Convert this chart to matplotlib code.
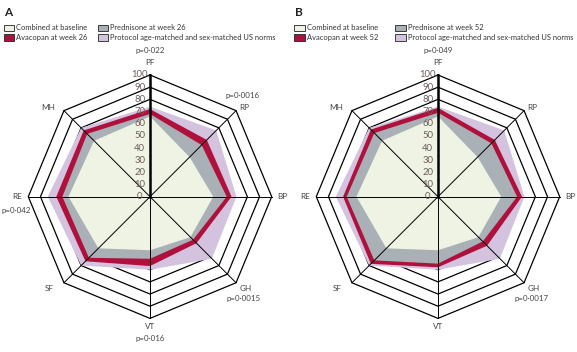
import numpy as np
import matplotlib
matplotlib.use('Agg')
import matplotlib.pyplot as plt
from matplotlib import font_manager
from matplotlib.patches import Rectangle

# domains, clockwise from the top
domains = ['PF', 'RP', 'BP', 'GH', 'VT', 'SF', 'RE', 'MH']
tick_values = [0, 10, 20, 30, 40, 50, 60, 70, 80, 90, 100]
ring_values = [60, 70, 80, 90, 100]

baseline = [66, 46, 52, 47, 44, 60, 67, 65]
us_norms = [74, 77, 71, 72, 60, 80, 84, 80]
pred_wk26 = [68, 60, 63, 50, 51, 71, 72, 73]
ava_wk26 = [72, 66, 67, 54, 57, 75, 77, 77]
pred_wk52 = [69, 62, 65, 52, 55, 74, 75, 74]
ava_wk52 = [73, 66, 69, 57, 58, 78, 78, 78]

pvals_wk26 = {'PF': 'p=0·022', 'RP': 'p=0·0016', 'GH': 'p=0·0015',
              'VT': 'p=0·016', 'RE': 'p=0·042'}
pvals_wk52 = {'PF': 'p=0·049', 'GH': 'p=0·0017'}

c_norm = '#d3c3df'
c_ava = '#b0103c'
c_pred = '#a9b0b6'
c_base = '#eef3e3'

names = {f.name for f in font_manager.fontManager.ttflist}
if 'Liberation Sans Narrow' in names:
    fam = 'Liberation Sans Narrow'
    fs = 6.3
else:
    fam = 'Lato'
    fs = 5.4
plt.rcParams['font.family'] = [fam, 'DejaVu Sans']

W, H = 577, 352
fig = plt.figure(figsize=(W / 100, H / 100), dpi=100)
s = 1.217  # pixels per unit

theta = np.deg2rad(np.arange(len(domains)) * 45.0)


def xy(vals):
    v = np.asarray(vals, dtype=float)
    v = np.append(v, v[0])
    t = np.append(theta, theta[0])
    return v * np.sin(t), v * np.cos(t)


# label anchors (units from the centre)
lab_pos = {'PF': (0, 110.5), 'RP': (77.5, 73), 'BP': (109, 0), 'GH': (79, -75.5),
           'VT': (0, -106.5), 'SF': (-82.5, -75.5), 'RE': (-109, 0), 'MH': (-83.5, 73)}
p_pos = {'PF': (0, 120.5), 'RP': (76, 83.5), 'GH': (77, -83.5),
         'VT': (0, -116.5), 'RE': (-110, -11)}


def panel(x0, width, cx, pred, ava, pvals):
    ax = fig.add_axes([x0 / W, 0, width / W, 1])
    cy = H - 196.7
    ax.set_xlim(-cx / s, (width - cx) / s)
    ax.set_ylim(-cy / s, (H - cy) / s)
    ax.axis('off')
    for r in ring_values:
        x, y = xy([r] * len(domains))
        ax.plot(x, y, color='black', lw=0.9, zorder=1)
    for vals, col in [(us_norms, c_norm), (ava, c_ava), (pred, c_pred), (baseline, c_base)]:
        x, y = xy(vals)
        ax.fill(x, y, color=col, lw=0, zorder=2)
    for i, t in enumerate(theta):
        ax.plot([0, 100 * np.sin(t)], [0, 100 * np.cos(t)], color='black',
                lw=1.8 if i == 0 else 0.7, zorder=4)
    for v in tick_values:
        ax.text(-8.5, v, str(v), ha='center', va='center', fontsize=fs + 1.4,
                color='#6e5c5c', zorder=5)
    for d in domains:
        ax.text(*lab_pos[d], d, ha='center', va='center', fontsize=fs + 0.5, color='#444444')
    for d, p in pvals.items():
        ax.text(*p_pos[d], p, ha='center', va='center', fontsize=fs + 0.3, color='#444444')


panel(0, 288, 150, pred_wk26, ava_wk26, pvals_wk26)
panel(288, 289, 150, pred_wk52, ava_wk52, pvals_wk52)


def legend(x1, x2, letter, week):
    fig.text((x1 + 1) / W, 1 - 12.5 / H, letter, fontsize=8.5, fontweight='bold',
             ha='left', va='center', color='#222222')
    rows = [(x1, 27.8, c_base, 'Combined at baseline'),
            (x1, 37.5, c_ava, 'Avacopan at week ' + week),
            (x2, 27.8, c_pred, 'Prednisone at week ' + week),
            (x2, 37.5, c_norm, 'Protocol age-matched and sex-matched US norms')]
    for x, y, col, lab in rows:
        fig.add_artist(Rectangle((x / W, 1 - (y + 3.3) / H), 10.5 / W, 6.6 / H,
                                 transform=fig.transFigure, fc=col, ec='#222222', lw=0.6))
        fig.text((x + 13) / W, 1 - y / H, lab, fontsize=fs, ha='left', va='center',
                 color='#333333')


legend(3.5, 97.5, 'A', '26')
legend(294, 395, 'B', '52')

fig.savefig('out.png', dpi=100)
